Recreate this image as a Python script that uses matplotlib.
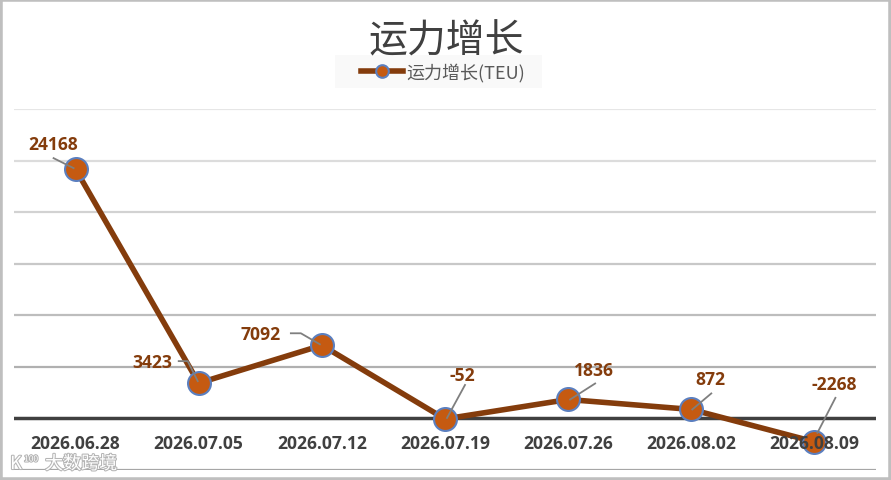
import matplotlib
matplotlib.use('Agg')
import matplotlib.pyplot as plt
import matplotlib.patheffects as pe
from matplotlib.patches import Rectangle

plt.rcParams['font.family'] = ['Noto Sans CJK SC', 'DejaVu Sans']

# data
dates = ['2026.06.28', '2026.07.05', '2026.07.12', '2026.07.19', '2026.07.26', '2026.08.02', '2026.08.09']
growth = [24168, 3423, 7092, -52, 1836, 872, -2268]
y_ticks = [-5000, 0, 5000, 10000, 15000, 20000, 25000, 30000]
grid_colors = ['#a6a6a6', '#404040', '#b0b0b0', '#bdbdbd', '#c8c8c8', '#d2d2d2', '#dcdcdc', '#e6e6e6']

# label offset and leader line, pixels from the point
label_pos = [(-22, 25), (-46, 21), (-61, 11), (17, 44), (26, 29), (19, 30), (20, 58)]
leaders = [
    [(-22, 11), (-2, 1)],
    [(-20, 22), (-11, 22), (-1, 2)],
    [(-31, 12), (-21, 12), (-2, 1)],
    [(20, 34), (2, 1)],
    [(27, 16), (2, 0)],
    [(20, 16), (1, 0)],
    [(21, 44), (3, 9)],
]

W, H = 891, 481
fig = plt.figure(figsize=(W / 100, H / 100), dpi=100)
ax = fig.add_axes([14 / W, 1 - 471 / H, 862 / W, 361 / H])

x = range(len(dates))

# gridlines
for t, c in zip(y_ticks, grid_colors):
    ax.axhline(t, color=c, lw=2.5 if t == 0 else 1.6, zorder=1)

line, = ax.plot(x, growth, color='#843c0c', lw=4, marker='o', ms=16.5, mfc='#c55a11',
                mec='#5b7fbf', mew=1.5, label='运力增长(TEU)', zorder=3)

ax.set_xlim(-0.5, len(dates) - 0.5)
ax.set_ylim(y_ticks[0], y_ticks[-1])
ax.set_yticks([])
ax.set_xticks([])
for s in ax.spines.values():
    s.set_visible(False)
ax.patch.set_alpha(0)

# category labels sit just under the zero line
for i, d in enumerate(dates):
    ax.annotate(d, xy=(i, 0), xytext=(0, -25), textcoords='offset pixels', ha='center', va='center',
                fontsize=12.6, fontweight='bold', color='#404040', family='Open Sans', zorder=5)

# data labels
for i, v in enumerate(growth):
    dx, dy = label_pos[i]
    ax.annotate(str(v), xy=(i, v), xytext=(dx, dy), textcoords='offset pixels', ha='center', va='center',
                fontsize=12.6, fontweight='bold', color='#843c0c', family='Open Sans', zorder=6)

# leader lines, in pixels
for i, pts in enumerate(leaders):
    px, py = ax.transData.transform((i, growth[i]))
    ax.plot([px + p[0] for p in pts], [py + p[1] for p in pts], color='#7f7f7f', lw=1.3,
            transform=None, zorder=5)

fig.text(446 / W, 1 - 41 / H, '运力增长', fontsize=28, color='#404040', ha='center', va='center')

# legend
fig.patches.append(Rectangle((335 / W, 1 - 89 / H), 207 / W, 33 / H, transform=fig.transFigure,
                             facecolor='#f9f9f9', edgecolor='none', zorder=0))
fig.legend(handles=[line], loc='center', bbox_to_anchor=(443 / W, 1 - 73 / H), frameon=False,
           fontsize=13, labelcolor='#595959', markerscale=0.55, handlelength=2.3, handletextpad=0.2)

# watermark
wm = [pe.withStroke(linewidth=1.5, foreground='#b5b5b5')]
fig.text(81 / W, 1 - 465 / H, '大数跨境', fontsize=13, color='white', ha='center', va='center', zorder=8, path_effects=wm)
fig.text(16 / W, 1 - 465 / H, 'K', fontsize=13, color='white', ha='center', va='center', zorder=8, path_effects=wm)
fig.text(31 / W, 1 - 460 / H, '100', fontsize=6, color='white', ha='center', va='center', zorder=8, path_effects=wm)

# outer border
fig.patches.append(Rectangle((0, 0), 1, 1, transform=fig.transFigure, fill=False,
                             edgecolor='#bfbfbf', lw=4, zorder=10))

fig.savefig('out.png', dpi=100)
